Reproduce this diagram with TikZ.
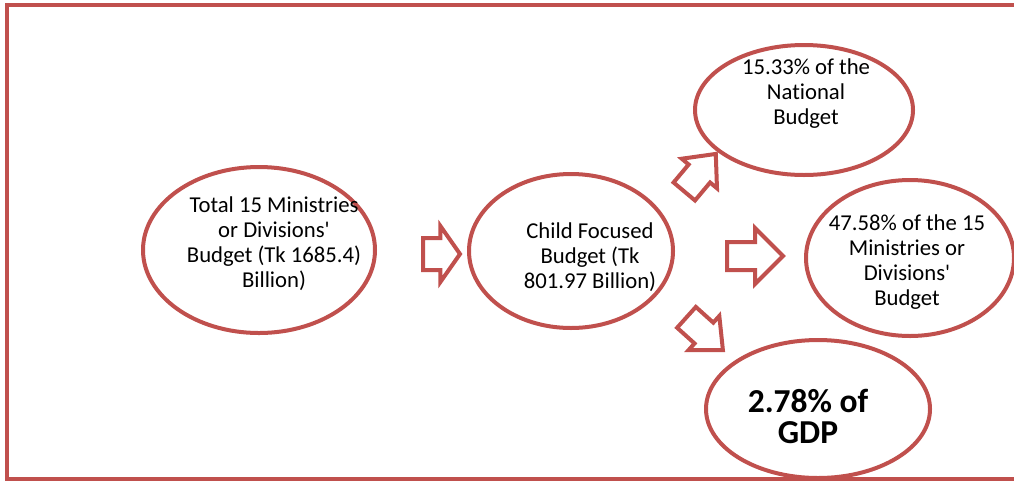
\documentclass[tikz,border=0pt]{standalone}
\usepackage{fontspec}
\setmainfont{Carlito}[Ligatures=NoCommon]
\usetikzlibrary{shapes.geometric,shapes.arrows}
\definecolor{budgetred}{HTML}{C0504D}

\begin{document}
\begin{tikzpicture}[x=1pt,y=-1pt,
  bubble/.style={ellipse,draw=budgetred,line width=4pt,inner sep=0pt},
  bubbletext/.style={align=center,inner sep=0pt,font=\fontsize{22.7}{25}\selectfont},
  blockarrow/.style={single arrow,draw=budgetred,line width=4pt,inner xsep=0pt,
    anchor=tail}]
\useasboundingbox (0,0) rectangle (1014,483);
\draw[budgetred,line width=4pt] (1020,5) -- (7,5) -- (7,479) -- (1020,479);
% the five bubbles
\node[bubble,minimum width=232pt,minimum height=166pt] (total) at (259,250) {};
\node[bubble,minimum width=204pt,minimum height=154pt] (child) at (571,251) {};
\node[bubble,minimum width=218pt,minimum height=130pt] (natl) at (804,110) {};
\node[bubble,minimum width=208pt,minimum height=156pt] (minis) at (910,258) {};
\node[bubble,minimum width=224pt,minimum height=138pt] (gdp) at (818,409) {};
% their texts
\node[bubbletext,xshift=15pt,yshift=6pt] (totaltext) at (total)
  {Total 15 Ministries\\or Divisions\textquotesingle\\Budget (Tk 1685.4)\\Billion)};
\node[bubbletext,xshift=19pt,yshift=-6pt] (childtext) at (child)
  {Child Focused\\Budget (Tk\\801.97 Billion)};
\node[bubbletext,xshift=2pt,yshift=16pt] (natltext) at (natl)
  {15.33\% of the\\National\\Budget};
\node[bubbletext,xshift=-3pt,yshift=-4pt] (ministext) at (minis)
  {47.58\% of the 15\\Ministries or\\Divisions\textquotesingle\\Budget};
\node[bubbletext,xshift=-10pt,yshift=-7pt,font=\fontsize{33.5}{31}\selectfont\bfseries]
  (gdptext) at (gdp) {2.78\% of\\GDP};
% block arrows between the bubbles
\node[blockarrow,minimum height=37pt,inner ysep=14pt,single arrow head extend=12pt,
  single arrow tip angle=110] (a1) at (421,254) {};
\node[blockarrow,minimum height=56pt,inner ysep=12pt,single arrow head extend=14pt,
  single arrow tip angle=90] (a2) at (725,256) {};
\node[blockarrow,minimum height=49pt,inner ysep=12pt,single arrow head extend=9pt,
  single arrow tip angle=84,rotate=50] (a3) at (683,193) {};
\node[blockarrow,minimum height=49pt,inner ysep=12pt,single arrow head extend=9pt,
  single arrow tip angle=84,rotate=-42] (a4) at (685,316) {};
\end{tikzpicture}
\end{document}
